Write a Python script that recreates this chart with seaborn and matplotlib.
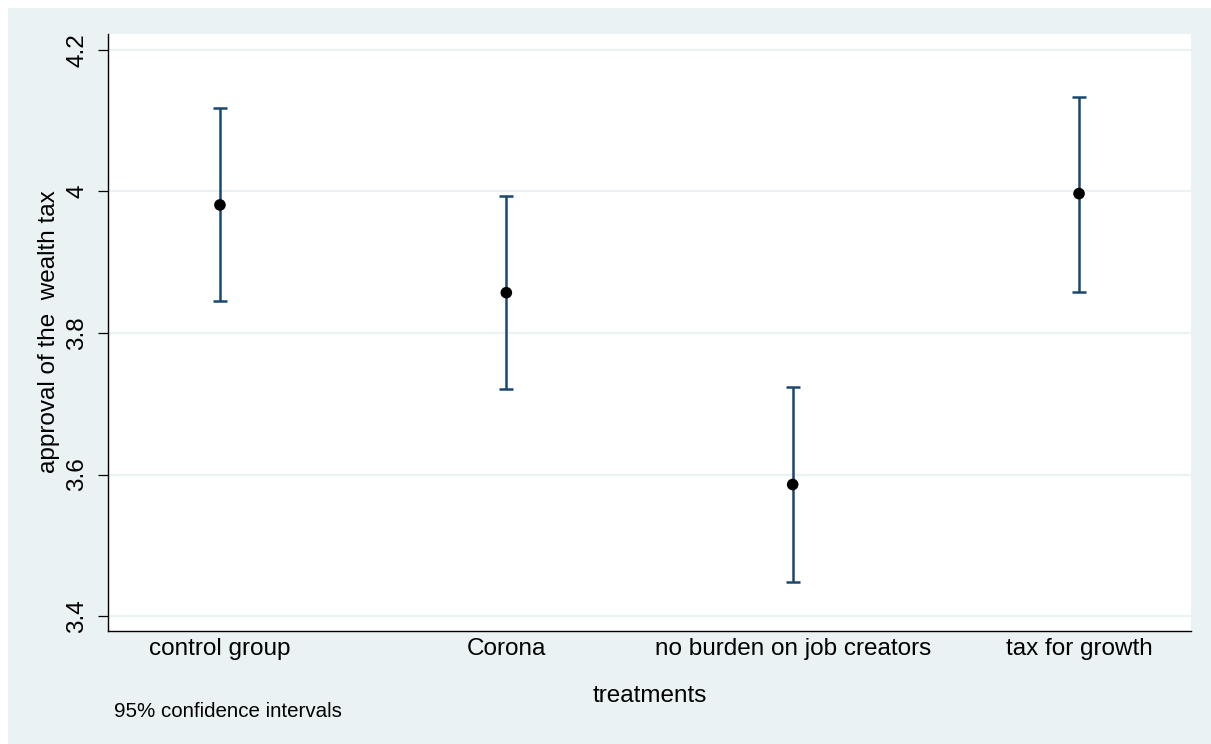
import numpy as np
import pandas as pd
import matplotlib
matplotlib.use("Agg")
import matplotlib.pyplot as plt
import seaborn as sns
from matplotlib.patches import Rectangle

# data
treatments = ["control group", "Corona", "no burden on job creators", "tax for growth"]
mean_approval = [3.981, 3.857, 3.586, 3.997]
ci_low = [3.845, 3.721, 3.448, 3.858]
ci_high = [4.118, 3.994, 3.724, 4.134]
y_ticks = [3.4, 3.6, 3.8, 4.0, 4.2]
y_ticklabels = ["3.4", "3.6", "3.8", "4", "4.2"]

df = pd.DataFrame({"treatment": treatments, "mean": mean_approval,
                   "lo": ci_low, "hi": ci_high})

sns.set_style("white")
plt.rcParams["font.family"] = ["Liberation Sans", "DejaVu Sans"]
plt.rcParams["text.color"] = "black"
plt.rcParams["xtick.color"] = "black"
plt.rcParams["ytick.color"] = "black"
plt.rcParams["axes.labelcolor"] = "black"

W, H = 1211, 744
bg = "#eaf2f3"
navy = "#1a476f"

fig = plt.figure(figsize=(W / 100, H / 100), dpi=100, facecolor="white")
# stata-style outer background
fig.patches.append(Rectangle((8 / W, 0), 1, 1 - 8 / H, transform=fig.transFigure,
                             facecolor=bg, edgecolor="none", zorder=-10))

ax = fig.add_axes([108 / W, 1 - 631 / H, (1191 - 108) / W, (631 - 34) / H])
ax.set_facecolor("white")

# gridlines
for yv in y_ticks:
    ax.axhline(yv, color=bg, lw=1.6, zorder=0)

# confidence intervals
ax.errorbar(df["treatment"], df["mean"],
            yerr=[df["mean"] - df["lo"], df["hi"] - df["mean"]],
            fmt="none", ecolor=navy, elinewidth=1.8, capsize=4.8, capthick=1.8,
            zorder=2)
sns.scatterplot(data=df, x="treatment", y="mean", color="black", s=70,
                edgecolor="none", ax=ax, zorder=3)

ax.set_xlim(-0.391, 3.391)
ax.set_ylim(3.379, 4.2225)
ax.set_yticks(y_ticks)
ax.set_yticklabels(y_ticklabels, rotation=90, va="center")
ax.set_xlabel("")
ax.set_ylabel("")

for s in ["top", "right"]:
    ax.spines[s].set_visible(False)
for s in ["left", "bottom"]:
    ax.spines[s].set_color("black")
    ax.spines[s].set_linewidth(1.0)

ax.tick_params(axis="y", length=7, width=0.9, color="black", labelcolor="black",
               labelsize=17.5, pad=7, left=True)
ax.tick_params(axis="x", length=0, labelcolor="black", labelsize=17.5, pad=5)

fig.text(49 / W, 1 - 332 / H, "approval of the  wealth tax", rotation=90,
         ha="center", va="center", fontsize=17.5, color="black")
fig.text(649.5 / W, 1 - 702 / H, "treatments", ha="center", va="baseline",
         fontsize=17.5, color="black")
fig.text(114 / W, 1 - 717 / H, "95% confidence intervals", ha="left", va="baseline",
         fontsize=14.8, color="black")

fig.savefig("out.png", dpi=100, facecolor="white")
